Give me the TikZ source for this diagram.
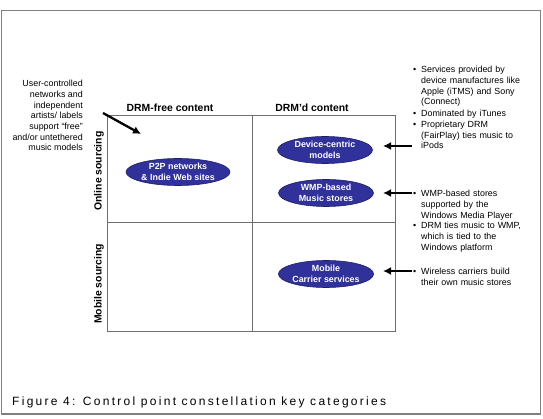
\documentclass[tikz,border=0pt]{standalone}
\usepackage{fontspec}
\setmainfont{Liberation Sans}
\newfontfamily\capfont[LetterSpace=19]{Liberation Sans}
\usetikzlibrary{arrows.meta,positioning,shapes.geometric}
\definecolor{Frame}{HTML}{7F7F7F}
\definecolor{GridLine}{HTML}{6E6E6E}
\definecolor{Blob}{HTML}{30319A}
\definecolor{BlobEdge}{HTML}{1F1F66}
\newcommand{\bul}[1]{\par\noindent\makebox[8pt][l]{\textbullet}\parbox[t]{120pt}{\raggedright #1\strut}}
\tikzset{
  >=Latex,
  grid/.style={draw=GridLine,line width=1pt},
  blob/.style={ellipse,fill=Blob,draw=BlobEdge,line width=.6pt,minimum width=95pt,minimum height=27pt,inner sep=0pt,
    text=white,align=center,font=\fontsize{8.9}{10.4}\selectfont\bfseries},
  head/.style={font=\fontsize{10.4}{12}\selectfont\bfseries},
  note/.style={font=\fontsize{8.9}{10.7}\selectfont,inner sep=0pt},
  bullets/.style={note,text width=130pt,align=left},
  pointto/.style={-{Latex[length=8pt,width=8pt]},line width=2.3pt,draw=black}
}
\begin{document}
\begin{tikzpicture}[x=1pt,y=-1pt]
  \useasboundingbox (0,0) rectangle (543,419);
  % outer frame
  \draw[draw=Frame,line width=1.5pt] (1.5,10.5) rectangle (540.5,414);
  % the 2x2 grid
  \draw[grid] (107,116) rectangle (395,331);
  \draw[grid] (252,116) -- (252,331);
  \draw[grid] (107,223) -- (395,223);
  % column and row headings
  \node[head] (free) at (170,108) {DRM-free content};
  \node[head] (drm) at (312,108) {DRM'd content};
  \node[head,rotate=90] (online) at (99,171) {Online sourcing};
  \node[head,rotate=90] (mobile) at (99,284) {Mobile sourcing};
  % categories
  \node[blob] (p2p) at (178,172) {P2P networks\\\& Indie Web sites};
  \node[blob] (dev) at (325,150) {Device-centric\\models};
  \node[blob] (wmp) at (326,193) {WMP-based\\Music stores};
  \node[blob] (mob) at (326,274) {Mobile\\Carrier services};
  % notes
  \node[note,align=right,anchor=north east] (user) at (83,80) {User-controlled\\networks and\\independent\\artists/ labels\\support “free”\\and/or untethered\\music models};
  \node[bullets,anchor=north west] (svc) at (413,62) {\bul{Services provided by\\device manufactures like\\Apple (iTMS) and Sony\\(Connect)}\bul{Dominated by iTunes}\bul{Proprietary DRM\\(FairPlay) ties music to\\iPods}};
  \node[bullets,anchor=north west] (win) at (413,186) {\bul{WMP-based stores\\supported by the\\Windows Media Player}\bul{DRM ties music to WMP,\\which is tied to the\\Windows platform}};
  \node[bullets,anchor=north west] (wls) at (413,264) {\bul{Wireless carriers build\\their own music stores}};
  % arrows
  \coordinate (d0) at (103,113);
  \coordinate (d1) at (141,134);
  \draw[pointto] (d0) -- (d1);
  \coordinate (a1) at (412,146);
  \coordinate (a2) at (412,193);
  \coordinate (a3) at (412,271);
  \draw[pointto] (a1) -- (a1 -| {383,0});
  \draw[pointto] (a2) -- (a2 -| {383,0});
  \draw[pointto] (a3) -- (a3 -| {383,0});
  % caption
  \node[anchor=west,font=\capfont\fontsize{12}{14}\selectfont,inner sep=0pt] (cap) at (12,402) {Figure 4: Control point constellation key categories};
\end{tikzpicture}
\end{document}
